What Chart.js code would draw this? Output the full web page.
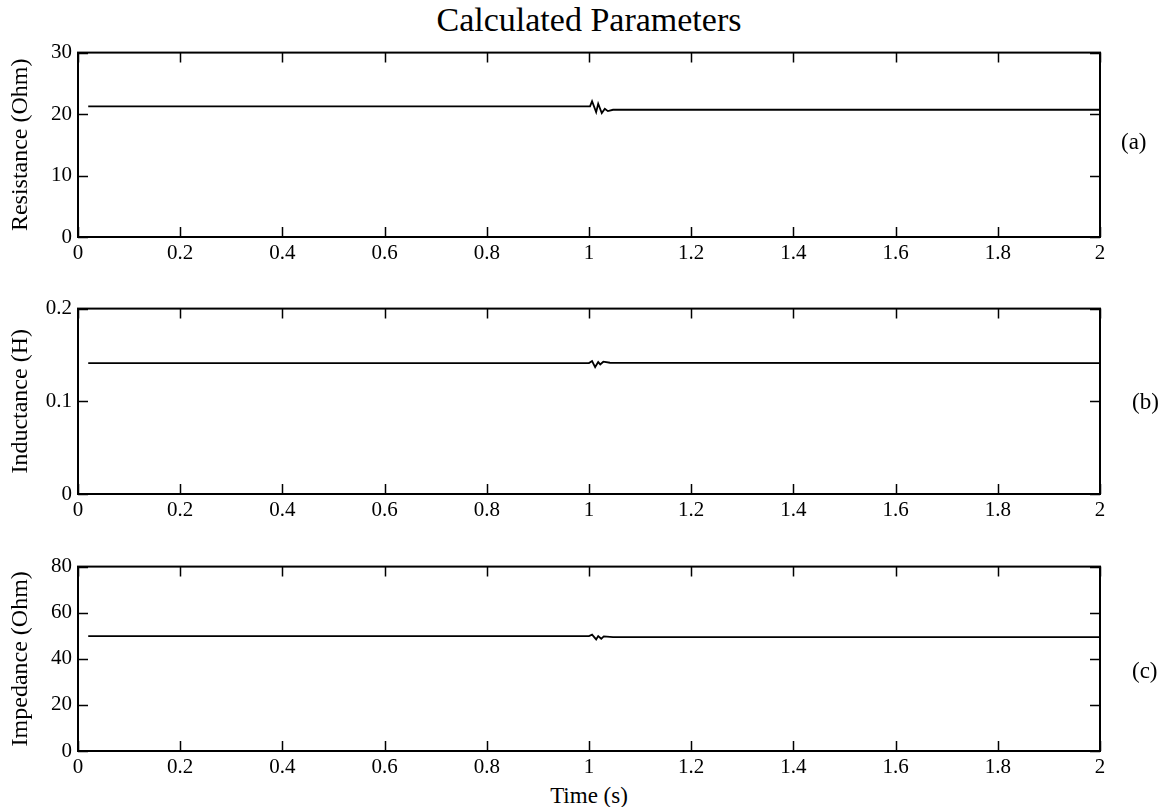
<!DOCTYPE html>
<html>
<head>
<meta charset="utf-8">
<script src="https://cdn.jsdelivr.net/npm/chart.js@4/dist/chart.umd.min.js"></script>
<style>
  body { margin: 0; background: #fff; width: 1165px; height: 807px; position: relative; overflow: hidden; font-family: "Liberation Serif", "Times New Roman", serif; color: #000; }
  canvas { position: absolute; left: 0; }
  .txt { position: absolute; white-space: nowrap; line-height: 1; }
  #title { left: 0; width: 1178px; text-align: center; top: 3px; font-size: 34px; }
  #xlabel { left: 0; width: 1178px; text-align: center; top: 784px; font-size: 23px; }
  .tag { font-size: 23px; }
</style>
</head>
<body>
<div class="txt" id="title">Calculated Parameters</div>
<canvas id="panelA" width="1165" height="233" style="top:34px"></canvas>
<canvas id="panelB" width="1165" height="234" style="top:290px"></canvas>
<canvas id="panelC" width="1165" height="233" style="top:548px"></canvas>
<div class="txt tag" style="top:130px; left:1121px">(a)</div>
<div class="txt tag" style="top:390px; left:1132px">(b)</div>
<div class="txt tag" style="top:659px; left:1132px">(c)</div>
<div class="txt" id="xlabel">Time (s)</div>
<script>
// estimated parameters over time, with the transient just after t = 1 s
const timeR = [0.02, 1.002, 1.006, 1.014, 1.018, 1.025, 1.031, 1.037, 1.047, 2.0];
const resistance = [21.24, 21.24, 22.1, 20.32, 21.68, 20.16, 20.87, 20.48, 20.7, 20.7];

const timeL = [0.02, 1.0, 1.006, 1.012, 1.018, 1.022, 1.028, 1.041, 2.0];
const inductance = [0.1412, 0.1412, 0.1434, 0.1369, 0.1423, 0.1398, 0.1427, 0.1416, 0.1412];

const timeZ = [0.02, 1.0, 1.006, 1.014, 1.018, 1.024, 1.029, 1.047, 2.0];
const impedance = [49.86, 49.86, 50.45, 48.43, 49.86, 48.7, 49.7, 49.4, 49.4];

const xTicks = [0, 0.2, 0.4, 0.6, 0.8, 1, 1.2, 1.4, 1.6, 1.8, 2];

Chart.defaults.color = '#000';
Chart.defaults.font.family = '"Liberation Serif", "Times New Roman", serif';

// box around the plot area with inward ticks on all four sides
const frame = {
  id: 'frame',
  afterDraw(chart) {
    const { ctx, chartArea: a, scales: { x, y } } = chart;
    ctx.save();
    ctx.strokeStyle = '#000';
    ctx.lineWidth = 2;
    ctx.strokeRect(a.left, a.top, a.right - a.left, a.bottom - a.top);
    ctx.lineWidth = 1.5;
    ctx.beginPath();
    x.ticks.forEach(t => {
      const px = Math.round(x.getPixelForValue(t.value)) + 0.5;
      ctx.moveTo(px, a.bottom); ctx.lineTo(px, a.bottom - 10);
      ctx.moveTo(px, a.top); ctx.lineTo(px, a.top + 10);
    });
    y.ticks.forEach(t => {
      const py = Math.round(y.getPixelForValue(t.value)) + 0.5;
      ctx.moveTo(a.left, py); ctx.lineTo(a.left + 10, py);
      ctx.moveTo(a.right, py); ctx.lineTo(a.right - 10, py);
    });
    ctx.stroke();
    ctx.restore();
  }
};

function panel(id, times, values, yMax, yStep, yTitle) {
  return new Chart(document.getElementById(id), {
    type: 'line',
    data: {
      datasets: [{
        data: times.map((t, i) => ({ x: t, y: values[i] })),
        borderColor: '#000',
        borderWidth: 1.8,
        pointRadius: 0,
        tension: 0
      }]
    },
    options: {
      responsive: false,
      animation: false,
      devicePixelRatio: 1,
      layout: { padding: { top: 10, right: 65, left: 0, bottom: 0 } },
      plugins: { legend: { display: false }, tooltip: { enabled: false } },
      scales: {
        x: {
          type: 'linear',
          min: 0, max: 2,
          afterFit: s => { s.height = 30; },
          afterBuildTicks: s => { s.ticks = xTicks.map(v => ({ value: v })); },
          grid: { display: false, drawTicks: false },
          border: { display: false },
          ticks: { font: { size: 21 }, padding: 4, maxRotation: 0, autoSkip: false,
                   callback: v => String(+v.toFixed(1)) }
        },
        y: {
          min: 0, max: yMax,
          afterFit: s => { s.width = 78; },
          grid: { display: false, drawTicks: false },
          border: { display: false },
          ticks: { font: { size: 21 }, padding: 6, stepSize: yStep,
                   callback: v => String(+v.toFixed(2)) },
          title: { display: true, text: yTitle, font: { size: 24 }, padding: { top: 6, bottom: 0 } }
        }
      }
    },
    plugins: [frame]
  });
}

panel('panelA', timeR, resistance, 30, 10, 'Resistance (Ohm)');
panel('panelB', timeL, inductance, 0.2, 0.1, 'Inductance (H)');
panel('panelC', timeZ, impedance, 80, 20, 'Impedance (Ohm)');
</script>
</body>
</html>
